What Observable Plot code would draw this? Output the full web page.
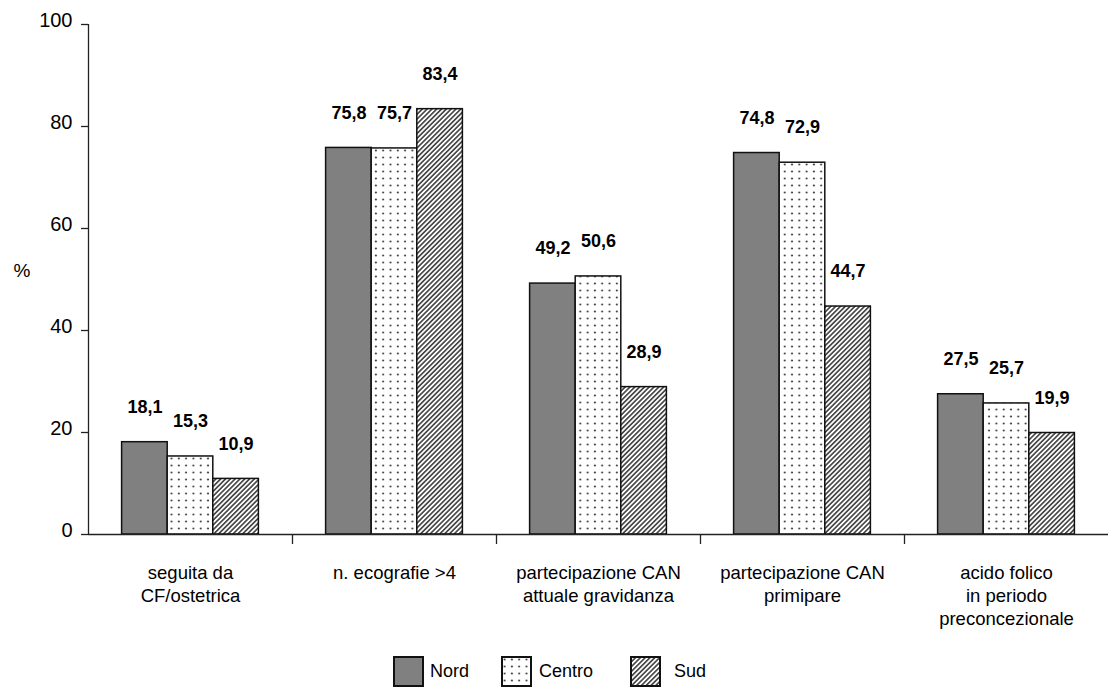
<!DOCTYPE html>
<html>
<head>
<meta charset="utf-8">
<script src="https://cdn.jsdelivr.net/npm/d3@7"></script>
<script src="https://cdn.jsdelivr.net/npm/@observablehq/plot@0.6"></script>
<style>
  html, body { margin: 0; padding: 0; background: #fff; }
  body { width: 1113px; height: 689px; overflow: hidden; font-family: "Liberation Sans", Arial, sans-serif; }
  #chart svg { display: block; }
  #legend { display: flex; align-items: center; padding-top: 11px; padding-left: 393px; font-size: 18px; color: #000; }
  .item { display: flex; align-items: center; }
  .item svg { display: block; }
</style>
</head>
<body>
<svg width="0" height="0" style="position:absolute">
  <defs>
    <pattern id="dots" width="7.3" height="7" patternUnits="userSpaceOnUse">
      <rect width="7.3" height="7" fill="#fff"></rect>
      <circle cx="3.6" cy="3.5" r="1.1" fill="#444"></circle>
    </pattern>
    <pattern id="hatch" width="3.4" height="10" patternUnits="userSpaceOnUse" patternTransform="rotate(45)">
      <rect width="3.4" height="10" fill="#fff"></rect>
      <line x1="1.7" y1="0" x2="1.7" y2="10" stroke="#222" stroke-width="1.4"></line>
    </pattern>
  </defs>
</svg>
<div id="chart"></div>
<div id="legend"></div>
<script>
// ---- data ----
const categories = [
  "seguita da\nCF/ostetrica",
  "n. ecografie >4",
  "partecipazione CAN\nattuale gravidanza",
  "partecipazione CAN\nprimipare",
  "acido folico\nin periodo\npreconcezionale"
];
const regions = ["Nord", "Centro", "Sud"];
const nord   = [18.1, 75.8, 49.2, 74.8, 27.5];
const centro = [15.3, 75.7, 50.6, 72.9, 25.7];
const sud    = [10.9, 83.4, 28.9, 44.7, 19.9];
const yTicks = [0, 20, 40, 60, 80, 100];

// ---- styles ----
const fills = {Nord: "#808080", Centro: "url(#dots)", Sud: "url(#hatch)"};
const barFrac = 0.2235; // bar width as fraction of category band
const fmt = v => v.toFixed(1).replace(".", ",");

const series = {Nord: nord, Centro: centro, Sud: sud};
const rows = [];
regions.forEach((r, k) => {
  series[r].forEach((v, i) => {
    const x1 = i + (k - 1.5) * barFrac;
    rows.push({region: r, i, value: v, x1, x2: x1 + barFrac, xc: x1 + barFrac / 2});
  });
});
const catIdx = categories.map((c, i) => i);
const bounds = catIdx.slice(1).map(i => i - 0.5);

const font = "'Liberation Sans', Arial, sans-serif";

const plot = Plot.plot({
  width: 1113,
  height: 645,
  marginLeft: 88,
  marginRight: 5,
  marginTop: 24,
  marginBottom: 111,
  style: {fontFamily: font, color: "#000", background: "#fff"},
  x: {type: "linear", domain: [-0.5, categories.length - 0.5], axis: null},
  y: {domain: [0, 100], axis: null},
  marks: [
    ...regions.map(r => Plot.rectY(rows.filter(d => d.region === r), {
      x1: "x1", x2: "x2", y1: 0, y2: "value",
      fill: fills[r], stroke: "#111", strokeWidth: 1.5
    })),
    Plot.text(rows, {
      x: "xc", y: "value", text: d => fmt(d.value), dy: -35,
      fontSize: 18, fontWeight: "bold", fill: "#000"
    }),
    Plot.axisY({ticks: yTicks, tickSize: 7, tickFormat: () => "", label: null, stroke: "#222", strokeWidth: 1.3}),
    Plot.text(yTicks, {y: d => d, text: d => String(d), frameAnchor: "left", textAnchor: "end", dx: -16, dy: -4, fontSize: 20, fill: "#000"}),
    Plot.ruleX([-0.5], {y1: 0, y2: 100, stroke: "#222", strokeWidth: 1.3}),
    Plot.ruleY([0], {stroke: "#222", strokeWidth: 1.3}),
    Plot.axisX({ticks: bounds, tickSize: 10, tickFormat: () => "", label: null, stroke: "#222", strokeWidth: 1.3}),
    Plot.text(catIdx, {
      x: d => d, y: 0, text: d => categories[d], dy: 28,
      lineAnchor: "top", lineHeight: 1.25, fontSize: 18.5, fill: "#000"
    }),
    Plot.text(["%"], {frameAnchor: "left", text: d => d, dx: -75, dy: -9, fontSize: 19, fill: "#000"})
  ]
});
document.getElementById("chart").appendChild(plot);

// ---- legend ----
const legend = document.getElementById("legend");
const gaps = {Nord: [6, 32], Centro: [7, 37], Sud: [13, 0]};
regions.forEach(r => {
  const item = document.createElement("div");
  item.className = "item";
  item.style.marginRight = gaps[r][1] + "px";
  item.innerHTML = `<svg width="31" height="31"><rect x="1" y="1" width="29" height="29" fill="${fills[r]}" stroke="#111" stroke-width="2"></rect></svg>` +
    `<span style="margin-left:${gaps[r][0]}px">${r}</span>`;
  legend.appendChild(item);
});
</script>
</body>
</html>
